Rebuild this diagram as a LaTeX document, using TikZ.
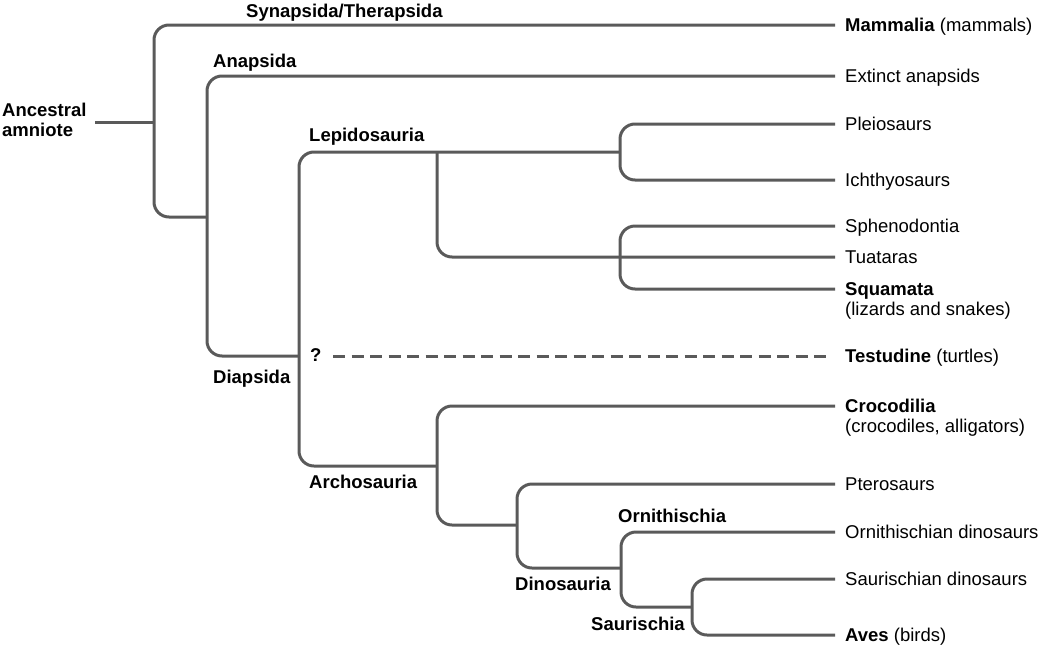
\documentclass[tikz,border=0pt]{standalone}
\usepackage{fontspec}
\setmainfont{Liberation Sans}
\definecolor{brc}{RGB}{90,90,90}
\newcommand\lbl{\fontsize{18.5}{20}\selectfont}
\tikzset{
  br/.style={draw=brc, line width=3pt, rounded corners=15pt},
  leaf/.style={anchor=west, inner xsep=10pt, inner ysep=0pt, text height=13.4pt, text depth=0pt, font=\lbl},
  clade/.style={anchor=base west, inner sep=0pt, font=\lbl\bfseries},
}
\begin{document}
\begin{tikzpicture}[x=1pt,y=-1pt]
\useasboundingbox (0,0) rectangle (1043,648);
% leaves
\node[leaf] (mam) at (835,25) {\textbf{Mammalia} (mammals)};
\node[leaf] (ext) at (835,76) {Extinct anapsids};
\node[leaf] (ple) at (835,124) {Pleiosaurs};
\node[leaf] (ich) at (835,180) {Ichthyosaurs};
\node[leaf] (sph) at (835,226) {Sphenodontia};
\node[leaf] (tua) at (835,257) {Tuataras};
\node[leaf] (squ) at (835,289) {\vtop{\hbox{\textbf{Squamata}}\hbox{(lizards and snakes)}}};
\node[leaf] (tes) at (835,356) {\textbf{Testudine} (turtles)};
\node[leaf] (cro) at (835,406) {\vtop{\hbox{\textbf{Crocodilia}}\hbox{(crocodiles, alligators)}}};
\node[leaf] (pte) at (835,484) {Pterosaurs};
\node[leaf] (orn) at (835,532) {Ornithischian dinosaurs};
\node[leaf] (sau) at (835,579) {Saurischian dinosaurs};
\node[leaf] (ave) at (835,635) {\textbf{Aves} (birds)};
% clade labels
\node[clade] (anc) at (2,116.7) {\vtop{\hbox{Ancestral}\hbox{amniote}}};
\node[clade] (syn) at (246,17) {Synapsida/Therapsida};
\node[clade] (ana) at (213,67) {Anapsida};
\node[clade] (lep) at (309,141.7) {Lepidosauria};
\node[clade] (dia) at (213,383.3) {Diapsida};
\node[clade] (arc) at (309,488.3) {Archosauria};
\node[clade] (din) at (515,590.5) {Dinosauria};
\node[clade] (orc) at (618,522.7) {Ornithischia};
\node[clade] (sac) at (591,630) {Saurischia};
\node[clade] (qm) at (310,361) {?};
% branch points
\coordinate (r0) at (95,122);
\coordinate (n1) at (154,122);
\coordinate (j2) at (207,217);
\coordinate (j3) at (299,356);
\coordinate (lp) at (437,152);
\coordinate (pn) at (620,152);
\coordinate (sn) at (620,257);
\coordinate (j6) at (437,466);
\coordinate (j7) at (517,525);
\coordinate (j8) at (621,568);
\coordinate (j9) at (692,607);
\coordinate (ds) at (333,356);
% branches
\draw[br] (r0) -- (n1);
\draw[br] (mam.west) -| (n1) |- (j2);
\draw[br] (ext.west) -| (j2) |- (j3);
\draw[br] (pn) -| (j3) |- (j6);
\draw[br] (ple.west) -| (pn) |- (ich.west);
\draw[br] (lp) |- (tua.west);
\draw[br] (sph.west) -| (sn) |- (squ.west);
\draw[br] (cro.west) -| (j6) |- (j7);
\draw[br] (pte.west) -| (j7) |- (j8);
\draw[br] (orn.west) -| (j8) |- (j9);
\draw[br] (sau.west) -| (j9) |- (ave.west);
\draw[br, rounded corners=0pt, dash pattern=on 12pt off 6.5pt] (ds) -- ([xshift=-5pt]tes.west);
\end{tikzpicture}
\end{document}
